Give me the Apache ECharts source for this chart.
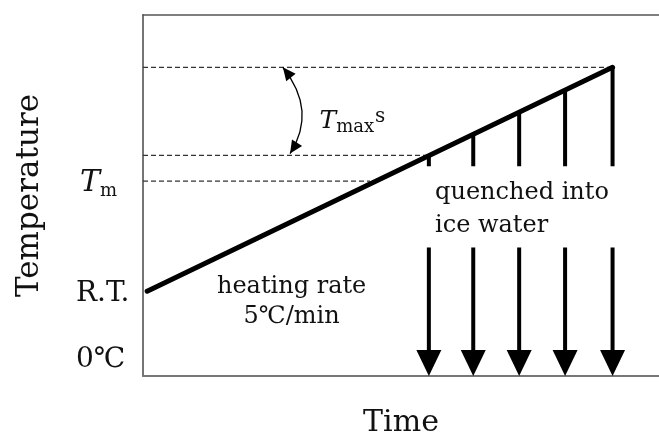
<!DOCTYPE html>
<html><head><meta charset="utf-8">
<script src="https://cdn.jsdelivr.net/npm/echarts@6/dist/echarts.min.js"></script>
<style>html,body{margin:0;padding:0;background:#fff}#c{width:659px;height:443px}</style>
</head><body><div id="c"></div>
<script>
// ---- data (abstract units) ----
const timeRange = [0, 100];
const tempRange = [0, 100];
const rampTime = [0.8, 91.0];
const rampTemp = [23.5, 85.5];
const quenchTimes = [55.4, 64.0, 72.9, 81.8, 91.0];
const quenchTemps = [61.1, 67.0, 73.1, 79.2, 85.5];
const holdEndTemp = 58.1;
const arrowTopTemp = 35.6;
const arrowBottomTemp = 0;
const dashLevels = [85.5, 61.1, 54.0];
const dashEndTimes = [91.0, 55.2, 44.0];
const curveStart = [27.1, 85.5];
const curveCtrl = [33.8, 73.5];
const curveEnd = [28.5, 61.6];
const tickValues = [4.5, 22.7, 53.5];
const tickLabels = ['0℃', 'R.T.', '{T|T}{sub|m}'];
const notes = [
  {t: 28.8, v: 24.7, text: 'heating rate', align: 'center'},
  {t: 28.8, v: 16.4, text: '5℃/min', align: 'center'},
  {t: 56.6, v: 50.7, text: 'quenched into', align: 'left'},
  {t: 56.6, v: 41.6, text: 'ice water', align: 'left'},
  {t: 34.2, v: 70.5, text: '{T2|T}{sub2|max}{s|s}', align: 'left'}
];

const FONT = 'DejaVu Serif';
const richT = {
  T: {fontFamily: FONT, fontStyle: 'italic', fontSize: 30, lineHeight: 34, color: '#111', padding: [0,0,0,4]},
  sub: {fontFamily: FONT, fontSize: 18, lineHeight: 14, verticalAlign: 'bottom', color: '#111'},
  T2: {fontFamily: FONT, fontStyle: 'italic', fontSize: 25, lineHeight: 30, color: '#111'},
  sub2: {fontFamily: FONT, fontSize: 18, lineHeight: 13, verticalAlign: 'bottom', color: '#111'},
  s: {fontFamily: FONT, fontSize: 20, lineHeight: 30, verticalAlign: 'top', color: '#111', padding: [0,0,0,1]}
};

const chart = echarts.init(document.getElementById('c'), null, {renderer: 'canvas'});

const dashSeries = dashLevels.map((lv, i) => ({
  type: 'line', symbol: 'none', silent: true, z: 1,
  data: [[0, lv], [dashEndTimes[i], lv]],
  lineStyle: {color: '#333', width: 1.3, type: [5, 3]}
}));

chart.setOption({
  animation: false,
  backgroundColor: '#fff',
  grid: {left: 143, top: 15, right: 0, bottom: 63},
  xAxis: [{
    type: 'value', min: timeRange[0], max: timeRange[1],
    axisLine: {show: true, lineStyle: {color: '#777', width: 2}},
    axisTick: {show: false}, axisLabel: {show: false}, splitLine: {show: false},
    name: 'Time', nameLocation: 'middle', nameGap: 32,
    nameTextStyle: {fontFamily: FONT, fontSize: 30, color: '#111'}
  }, {
    type: 'value', position: 'top', min: timeRange[0], max: timeRange[1],
    axisLine: {show: true, onZero: false, lineStyle: {color: '#555', width: 1.5}},
    axisTick: {show: false}, axisLabel: {show: false}, splitLine: {show: false}
  }],
  yAxis: {
    type: 'value', min: tempRange[0], max: tempRange[1],
    axisLine: {show: true, lineStyle: {color: '#666', width: 1.8}},
    axisTick: {show: false}, splitLine: {show: false},
    axisLabel: {
      customValues: tickValues, align: 'left', margin: 67,
      fontFamily: FONT, fontSize: 28, color: '#111',
      formatter: v => tickLabels[tickValues.indexOf(v)],
      rich: richT
    },
    name: 'Temperature', nameLocation: 'middle', nameGap: 98, nameRotate: 90,
    nameTextStyle: {fontFamily: FONT, fontSize: 31, color: '#111'}
  },
  series: [
    ...dashSeries,
    {
      type: 'line', symbol: 'none', z: 3,
      data: rampTime.map((t, i) => [t, rampTemp[i]]),
      lineStyle: {color: '#000', width: 5, cap: 'round'}
    },
    {
      type: 'custom', z: 3,
      data: quenchTimes.map((t, i) => [t, quenchTemps[i], holdEndTemp]),
      renderItem: (p, api) => {
        const a = api.coord([api.value(0), api.value(1)]);
        const b = api.coord([api.value(0), api.value(2)]);
        return {type: 'line', shape: {x1: a[0], y1: a[1], x2: b[0], y2: b[1]},
          style: {stroke: '#000', lineWidth: 4}};
      }
    },
    {
      type: 'custom', z: 3,
      data: quenchTimes.map(t => [t, arrowTopTemp, arrowBottomTemp]),
      renderItem: (p, api) => {
        const a = api.coord([api.value(0), api.value(1)]);
        const b = api.coord([api.value(0), api.value(2)]);
        const h = 26, w = 12.5;
        return {type: 'group', children: [
          {type: 'line', shape: {x1: a[0], y1: a[1], x2: b[0], y2: b[1] - h + 2},
            style: {stroke: '#000', lineWidth: 4}},
          {type: 'polygon', shape: {points: [[b[0] - w, b[1] - h], [b[0] + w, b[1] - h], [b[0], b[1]]]},
            style: {fill: '#000'}}
        ]};
      }
    },
    {
      type: 'custom', z: 4,
      data: [[curveStart[0], curveStart[1], curveCtrl[0], curveCtrl[1], curveEnd[0], curveEnd[1]]],
      renderItem: (p, api) => {
        const s = api.coord([api.value(0), api.value(1)]);
        const c = api.coord([api.value(2), api.value(3)]);
        const e = api.coord([api.value(4), api.value(5)]);
        const head = (tip, from) => {
          const dx = tip[0] - from[0], dy = tip[1] - from[1];
          const L = Math.hypot(dx, dy), ux = dx / L, uy = dy / L;
          const len = 13, hw = 6;
          const bx = tip[0] - ux * len, by = tip[1] - uy * len;
          return {type: 'polygon', shape: {points: [tip, [bx - uy * hw, by + ux * hw], [bx + uy * hw, by - ux * hw]]},
            style: {fill: '#000'}};
        };
        return {type: 'group', children: [
          {type: 'bezierCurve', shape: {x1: s[0], y1: s[1], cpx1: c[0], cpy1: c[1], x2: e[0], y2: e[1]},
            style: {stroke: '#000', lineWidth: 1.3, fill: null}},
          head(s, c), head(e, c)
        ]};
      }
    },
    {
      type: 'custom', z: 5,
      data: notes.map((n, i) => [n.t, n.v, i]),
      renderItem: (p, api) => {
        const n = notes[api.value(2)];
        const pt = api.coord([api.value(0), api.value(1)]);
        return {type: 'text', x: pt[0], y: pt[1], style: {
          text: n.text, fontFamily: FONT, fontSize: 24, fill: '#111',
          align: n.align, verticalAlign: 'middle', rich: richT
        }};
      }
    }
  ]
});
</script></body></html>
